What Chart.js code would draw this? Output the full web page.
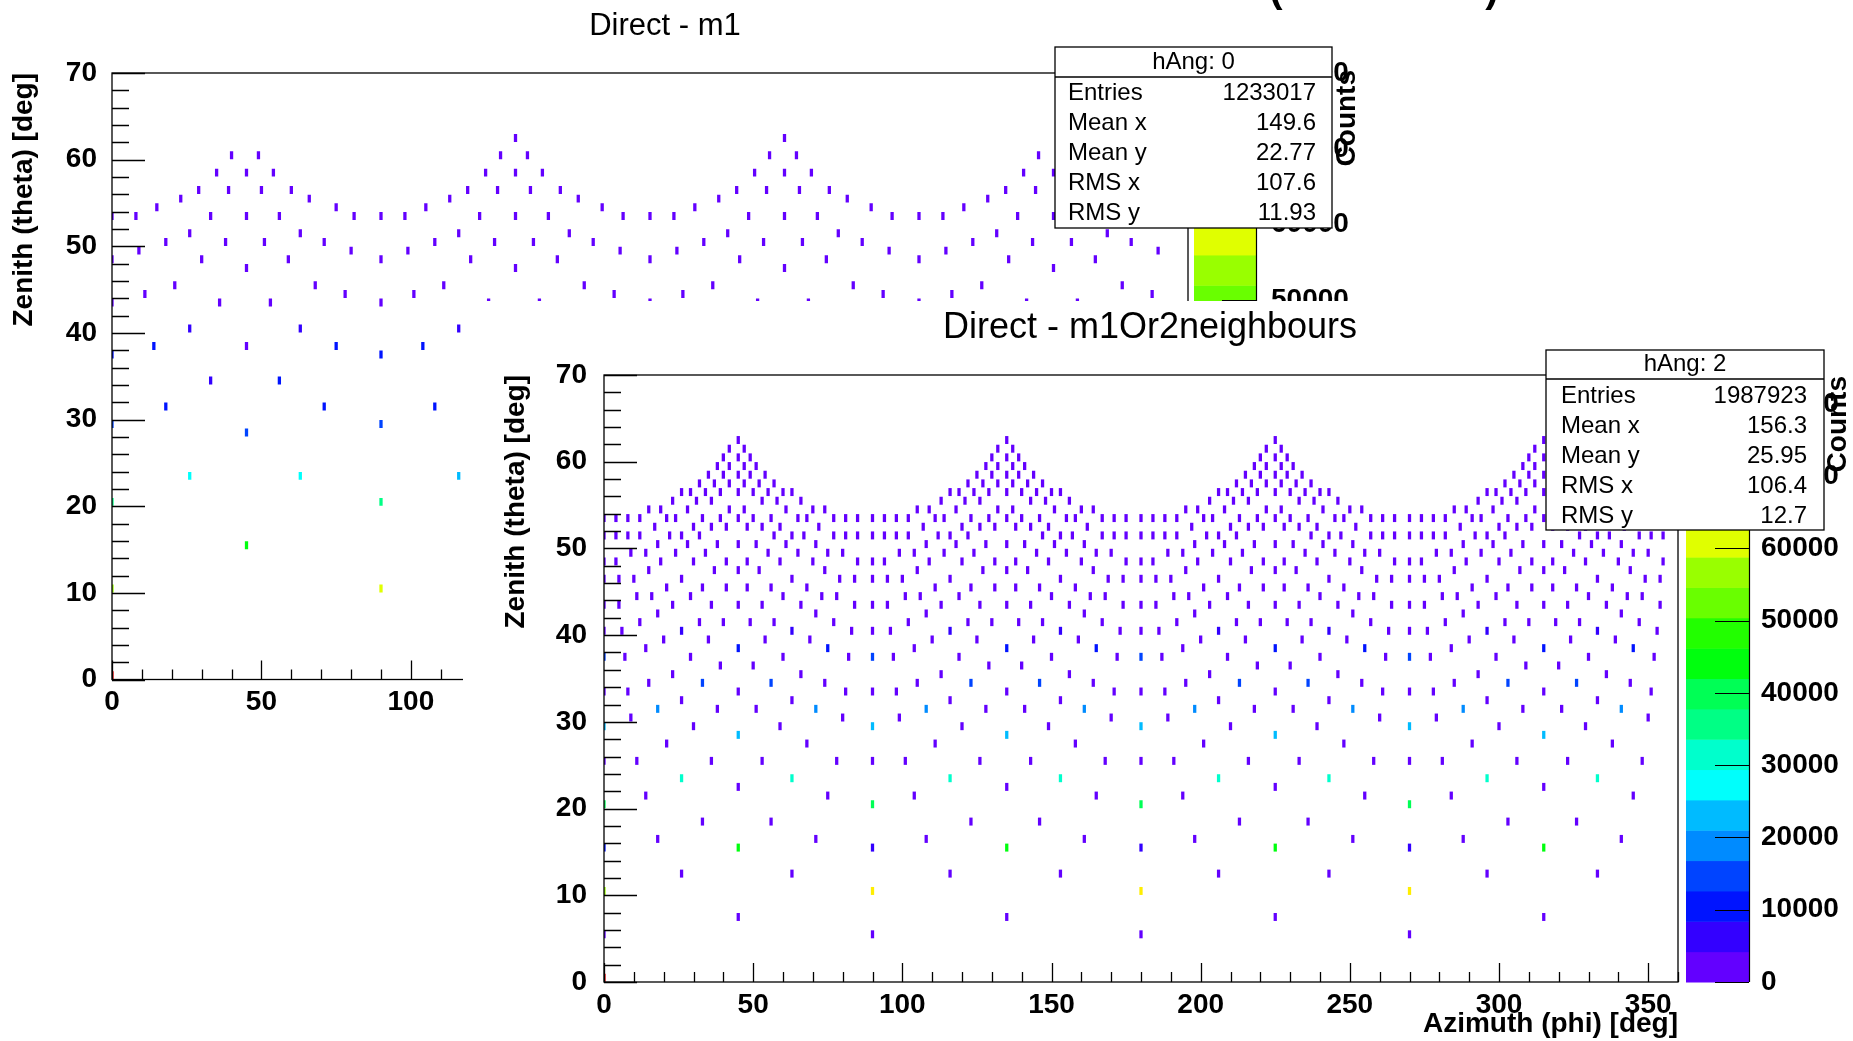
<!DOCTYPE html>
<html>
<head>
<meta charset="utf-8">
<title>hAng</title>
<script src="https://cdn.jsdelivr.net/npm/chart.js@4.4.1/dist/chart.umd.min.js"></script>
<style>
  html, body { margin:0; padding:0; background:#fff; overflow:hidden; width:1853px; height:1041px; }
  #padTop { position:absolute; left:0; top:0; }
  #padBot { position:absolute; left:463px; top:301px; background:#fff; }
</style>
</head>
<body>
<canvas id="padTop" width="1853" height="1041"></canvas>
<canvas id="padBot" width="1390" height="740"></canvas>
<script>
// ================= DATA =================
const phiTicks = [0, 50, 100, 150, 200, 250, 300, 350];
const thetaTicks = [0, 10, 20, 30, 40, 50, 60, 70];
const countTicks = [0, 10000, 20000, 30000, 40000, 50000, 60000, 70000, 80000];

const topTitle = 'Direct - m1';
const botTitle = 'Direct - m1Or2neighbours';
const xTitle = 'Azimuth (phi) [deg]';
const yTitle = 'Zenith (theta) [deg]';
const zTitle = 'Counts';

const statLabels = ['Entries', 'Mean x', 'Mean y', 'RMS x', 'RMS y'];
const statsTopName = 'hAng: 0';
const statsTop = ['1233017', '149.6', '22.77', '107.6', '11.93'];
const statsBotName = 'hAng: 2';
const statsBot = ['1987923', '156.3', '25.95', '106.4', '12.7'];

const zMaxTop = 80000;
const zMaxBot = 84000;
const baseCountTop = 2000;   // ordinary (violet) cells
const baseCountBot = 2000;

// ---- upper pad: Direct - m1 ----
const thetaRowsTop = [62.5, 60.5, 58.5, 56.5, 55.5, 54.5, 53.5, 51.5, 50.5, 49.5, 48.5, 47.5, 45.5, 44.5, 43.5,
  40.5, 38.5, 37.5, 34.5, 31.5, 29.5, 28.5, 23.5, 20.5, 15.5, 10.5, 0.5];
const phiRowsTop = [
  [135, 225],
  [40, 49, 130, 139, 220, 229, 310, 319],
  [35, 45, 54, 125, 135, 144, 215, 225, 234, 305, 315, 324],
  [29, 39, 50, 60, 119, 129, 140, 150, 209, 219, 230, 240, 299, 309, 320, 330],
  [23, 66, 113, 156, 203, 246, 293, 336],
  [15, 75, 105, 164, 195, 254, 285, 344],
  [0, 8, 33, 45, 56, 81, 90, 98, 123, 135, 146, 171, 180, 188, 213, 225, 236, 261, 270, 278, 303, 315, 326, 351],
  [26, 63, 116, 153, 206, 243, 296, 333],
  [18, 38, 51, 71, 108, 128, 141, 161, 198, 218, 231, 251, 288, 308, 321, 341],
  [9, 80, 99, 170, 189, 260, 279, 350],
  [0, 30, 59, 90, 120, 149, 180, 210, 239, 270, 300, 329],
  [45, 135, 225, 315],
  [21, 68, 111, 158, 201, 248, 291, 338],
  [11, 78, 101, 168, 191, 258, 281, 348],
  [0, 36, 53, 90, 126, 143, 180, 216, 233, 270, 306, 323],
  [26, 63, 116],
  [14, 45, 75, 104],
  [0, 90],
  [33, 56],
  [18, 71, 108],
  [0, 90],
  [45],
  [26, 63, 116],
  [0, 90],
  [45],
  [0, 90],
  [0]
];
// [phi, theta, counts] for cells brighter than the base violet
const hotTop = [
  [0, 0.5, 80000],
  [0, 10.5, 53000], [90, 10.5, 58000],
  [45, 15.5, 42000],
  [0, 20.5, 34000], [90, 20.5, 34000],
  [26, 23.5, 26000], [63, 23.5, 26000], [116, 23.5, 22000],
  [45, 28.5, 15000],
  [0, 29.5, 14000], [90, 29.5, 14000],
  [18, 31.5, 10000], [71, 31.5, 10000], [108, 31.5, 10000],
  [33, 34.5, 6000], [56, 34.5, 10000],
  [0, 37.5, 10000], [90, 37.5, 10000],
  [14, 38.5, 10000], [75, 38.5, 10000], [104, 38.5, 10000],
  [26, 40.5, 6000], [63, 40.5, 6000], [116, 40.5, 6000]
];

// ---- lower pad: Direct - m1Or2neighbours ----
const thetaRowsBot = [62.5, 61.5, 60.5, 59.5, 58.5, 57.5, 56.5, 55.5, 54.5, 53.5, 52.5, 51.5, 50.5, 49.5, 48.5,
  47.5, 46.5, 45.5, 44.5, 43.5, 42.5, 41.5, 40.5, 39.5, 38.5, 37.5, 36.5, 35.5, 34.5, 33.5, 32.5, 31.5, 30.5,
  29.5, 28.5, 27.5, 25.5, 23.5, 22.5, 21.5, 20.5, 18.5, 16.5, 15.5, 12.5, 10.5, 7.5, 5.5, 0.5];
const phiRowsBot = [
  [45, 135, 225, 315],
  [42, 47, 132, 137, 222, 227, 312, 317],
  [40, 45, 49, 130, 135, 139, 220, 225, 229, 310, 315, 319],
  [38, 42, 47, 51, 128, 132, 137, 141, 218, 222, 227, 231, 308, 312, 317, 321],
  [35, 40, 45, 49, 54, 125, 130, 135, 139, 144, 215, 220, 225, 229, 234, 305, 310, 315, 319, 324],
  [32, 37, 42, 47, 52, 57, 122, 127, 132, 137, 142, 147, 212, 217, 222, 227, 232, 237, 302, 307, 312, 317, 322, 327],
  [26, 29, 34, 39, 45, 50, 55, 60, 63, 116, 119, 124, 129, 135, 140, 145, 150, 153, 206, 209, 214, 219, 225, 230, 235, 240, 243, 296, 299, 304, 309, 315, 320, 325, 330, 333],
  [23, 31, 36, 53, 58, 66, 113, 121, 126, 143, 148, 156, 203, 211, 216, 233, 238, 246, 293, 301, 306, 323, 328, 336],
  [15, 19, 28, 42, 47, 61, 70, 74, 105, 109, 118, 132, 137, 151, 160, 164, 195, 199, 208, 222, 227, 241, 250, 254, 285, 289, 298, 312, 317, 331, 340, 344],
  [0, 4, 8, 12, 21, 24, 33, 39, 45, 50, 56, 65, 68, 77, 81, 85, 90, 94, 98, 102, 111, 114, 123, 129, 135, 140, 146, 155, 158, 167, 171, 175, 180, 184, 188, 192, 201, 204, 213, 219, 225, 230, 236, 245, 248, 257, 261, 265, 270, 274, 278, 282, 291, 294, 303, 309, 315, 320, 326, 335, 338, 347, 351, 355],
  [17, 30, 36, 41, 48, 53, 59, 72, 107, 120, 126, 131, 138, 143, 149, 162, 197, 210, 216, 221, 228, 233, 239, 252, 287, 300, 306, 311, 318, 323, 329, 342],
  [0, 4, 8, 12, 22, 26, 32, 57, 63, 67, 77, 81, 85, 90, 94, 98, 102, 112, 116, 122, 147, 153, 157, 167, 171, 175, 180, 184, 188, 192, 202, 206, 212, 237, 243, 247, 257, 261, 265, 270, 274, 278, 282, 292, 296, 302, 327, 333, 337, 347, 351, 355],
  [18, 28, 38, 45, 51, 61, 71, 108, 118, 128, 135, 141, 151, 161, 198, 208, 218, 225, 231, 241, 251, 288, 298, 308, 315, 321, 331, 341],
  [9, 14, 24, 34, 55, 65, 75, 80, 99, 104, 114, 124, 145, 155, 165, 170, 189, 194, 204, 214, 235, 245, 255, 260, 279, 284, 294, 304, 325, 335, 345, 350],
  [0, 4, 19, 30, 41, 48, 59, 70, 85, 90, 94, 109, 120, 131, 138, 149, 160, 175, 180, 184, 199, 210, 221, 228, 239, 250, 265, 270, 274, 289, 300, 311, 318, 329, 340, 355],
  [15, 37, 45, 52, 74, 105, 127, 135, 142, 164, 195, 217, 225, 232, 254, 285, 307, 315, 322, 344],
  [0, 5, 10, 26, 63, 79, 84, 90, 95, 100, 116, 153, 169, 174, 180, 185, 190, 206, 243, 259, 264, 270, 275, 280, 296, 333, 349, 354],
  [21, 33, 41, 48, 56, 68, 111, 123, 131, 138, 146, 158, 201, 213, 221, 228, 236, 248, 291, 303, 311, 318, 326, 338],
  [11, 16, 29, 60, 73, 78, 101, 106, 119, 150, 163, 168, 191, 196, 209, 240, 253, 258, 281, 286, 299, 330, 343, 348],
  [0, 5, 23, 36, 45, 53, 66, 84, 90, 95, 113, 126, 135, 143, 156, 174, 180, 185, 203, 216, 225, 233, 246, 264, 270, 275, 293, 306, 315, 323, 336, 354],
  [18, 71, 108, 161, 198, 251, 288, 341],
  [12, 32, 40, 49, 57, 77, 102, 122, 130, 139, 147, 167, 192, 212, 220, 229, 237, 257, 282, 302, 310, 319, 327, 347],
  [0, 6, 26, 63, 83, 90, 96, 116, 153, 173, 180, 186, 206, 243, 263, 270, 276, 296, 333, 353],
  [20, 35, 54, 69, 110, 125, 144, 159, 200, 215, 234, 249, 290, 305, 324, 339],
  [14, 45, 75, 104, 135, 165, 194, 225, 255, 284, 315, 345],
  [0, 7, 29, 60, 82, 90, 97, 119, 150, 172, 180, 187, 209, 240, 262, 270, 277, 299, 330, 352],
  [39, 50, 129, 140, 219, 230, 309, 320],
  [23, 66, 113, 156, 203, 246, 293, 336],
  [15, 33, 56, 74, 105, 123, 146, 164, 195, 213, 236, 254, 285, 303, 326, 344],
  [0, 8, 45, 81, 90, 98, 135, 171, 180, 188, 225, 261, 270, 278, 315, 351],
  [26, 63, 116, 153, 206, 243, 296, 333],
  [18, 38, 51, 71, 108, 128, 141, 161, 198, 218, 231, 251, 288, 308, 321, 341],
  [9, 80, 99, 170, 189, 260, 279, 350],
  [0, 30, 59, 90, 120, 149, 180, 210, 239, 270, 300, 329],
  [45, 135, 225, 315],
  [21, 68, 111, 158, 201, 248, 291, 338],
  [0, 11, 36, 53, 78, 90, 101, 126, 143, 168, 180, 191, 216, 233, 258, 270, 281, 306, 323, 348],
  [26, 63, 116, 153, 206, 243, 296, 333],
  [45, 135, 225, 315],
  [14, 75, 104, 165, 194, 255, 284, 345],
  [0, 90, 180, 270],
  [33, 56, 123, 146, 213, 236, 303, 326],
  [18, 71, 108, 161, 198, 251, 288, 341],
  [0, 45, 90, 135, 180, 225, 270, 315],
  [26, 63, 116, 153, 206, 243, 296, 333],
  [0, 90, 180, 270],
  [45, 135, 225, 315],
  [0, 90, 180, 270],
  [0]
];
const hotBot = [
  [0, 0.5, 84000],
  [0, 10.5, 56000], [90, 10.5, 65000], [180, 10.5, 65000], [270, 10.5, 65000],
  [0, 15.5, 10000], [90, 15.5, 6000], [180, 15.5, 6000], [270, 15.5, 6000],
  [45, 15.5, 44000], [135, 15.5, 44000], [225, 15.5, 44000], [315, 15.5, 44000],
  [0, 20.5, 40000], [90, 20.5, 40000], [180, 20.5, 40000], [270, 20.5, 40000],
  [26, 23.5, 31000], [63, 23.5, 31000], [116, 23.5, 31000], [153, 23.5, 31000], [206, 23.5, 31000], [243, 23.5, 31000], [296, 23.5, 31000], [333, 23.5, 31000],
  [45, 28.5, 23000], [135, 28.5, 23000], [225, 28.5, 23000], [315, 28.5, 23000],
  [0, 29.5, 23000], [90, 29.5, 23000], [180, 29.5, 23000], [270, 29.5, 23000],
  [18, 31.5, 19000], [71, 31.5, 19000], [108, 31.5, 19000], [161, 31.5, 19000], [198, 31.5, 19000], [251, 31.5, 19000], [288, 31.5, 19000], [341, 31.5, 19000],
  [33, 34.5, 14500], [56, 34.5, 14500], [123, 34.5, 14500], [146, 34.5, 14500], [213, 34.5, 14500], [236, 34.5, 14500], [303, 34.5, 14500], [326, 34.5, 14500],
  [0, 37.5, 14500], [90, 37.5, 14500], [180, 37.5, 14500], [270, 37.5, 14500],
  [45, 38.5, 10500], [75, 38.5, 10500], [135, 38.5, 10500], [165, 38.5, 10500], [225, 38.5, 10500], [255, 38.5, 10500], [315, 38.5, 10500], [345, 38.5, 10500],
  [26, 40.5, 6000], [63, 40.5, 6000], [116, 40.5, 6000], [153, 40.5, 6000], [206, 40.5, 6000], [243, 40.5, 6000], [296, 40.5, 6000], [333, 40.5, 6000]
];

// ================= STYLE =================
const FONT = "'Liberation Sans', Arial, Helvetica, sans-serif";
const PALETTE = ['#6300ff','#3300ff','#0014ff','#0044ff','#008bff','#00bbff','#00fffc','#00ffcc','#00ff85','#00ff55',
                 '#00ff0e','#22ff00','#69ff00','#99ff00','#e0ff00','#ffee00','#ffa700','#ff7700','#ff3000','#ff0000'];
const CELL_W = 1.1;    // deg (phi)
const CELL_H = 0.92;   // deg (theta)

function bandColor(v, zMax) {
  let k = Math.floor(v / zMax * PALETTE.length);
  if (k < 0) k = 0;
  if (k > PALETTE.length - 1) k = PALETTE.length - 1;
  return PALETTE[k];
}

function buildCells(thetaRows, phiRows, hot, base) {
  const hotMap = new Map(hot.map(h => [h[0] + '|' + h[1], h[2]]));
  const pts = [];
  thetaRows.forEach((th, i) => {
    phiRows[i].forEach(ph => {
      const key = ph + '|' + th;
      pts.push({ x: ph, y: th, v: hotMap.has(key) ? hotMap.get(key) : base });
    });
  });
  return pts;
}

function zeroPad(sc) {
  sc.paddingLeft = 0; sc.paddingRight = 0; sc.paddingTop = 0; sc.paddingBottom = 0;
}

function rootPlugin(cfg) {
  return {
    id: 'rootDecor_' + cfg.name,
    afterDatasetsDraw(chart) {
      const { ctx, chartArea: a, scales } = chart;
      const xs = scales.x, ys = scales.y, zs = scales.z;
      ctx.save();
      // colour bar (palette axis)
      const n = PALETTE.length;
      for (let k = 0; k < n; k++) {
        const y0 = zs.getPixelForValue(k * cfg.zMax / n);
        const y1 = zs.getPixelForValue((k + 1) * cfg.zMax / n);
        ctx.fillStyle = PALETTE[k];
        ctx.fillRect(cfg.cb.left, y1, cfg.cb.right - cfg.cb.left, y0 - y1 + 0.5);
      }
      ctx.strokeStyle = '#000';
      ctx.lineWidth = 1.2;
      ctx.beginPath();
      ctx.moveTo(cfg.cb.right + 0.5, a.top);
      ctx.lineTo(cfg.cb.right + 0.5, a.bottom);
      cfg.zTicks.forEach(v => {
        const py = Math.round(zs.getPixelForValue(v)) + 0.5;
        ctx.moveTo(cfg.cb.right, py);
        ctx.lineTo(cfg.cb.right - cfg.cb.tick, py);
      });
      ctx.stroke();
      // frame
      ctx.lineWidth = 1.3;
      ctx.strokeRect(a.left, a.top, a.right - a.left, a.bottom - a.top);
      // axis ticks (inside the frame, ROOT style)
      ctx.beginPath();
      for (let v = 0; v <= 360; v += 10) {
        const px = Math.round(xs.getPixelForValue(v)) + 0.5;
        const L = (v % 50 === 0) ? 19 : 10;
        ctx.moveTo(px, a.bottom);
        ctx.lineTo(px, a.bottom - L);
      }
      for (let v = 0; v <= 70; v += 2) {
        const py = Math.round(ys.getPixelForValue(v)) + 0.5;
        const L = (v % 10 === 0) ? 33 : 17;
        ctx.moveTo(a.left, py);
        ctx.lineTo(a.left + L, py);
      }
      ctx.stroke();
      ctx.restore();
    },
    afterDraw(chart) {
      const { ctx } = chart;
      ctx.save();
      // pad title
      ctx.fillStyle = '#000';
      ctx.font = cfg.title.size + 'px ' + FONT;
      ctx.textAlign = 'center';
      ctx.textBaseline = 'alphabetic';
      ctx.fillText(cfg.title.text, cfg.title.x, cfg.title.y);
      // z-axis title
      ctx.save();
      ctx.translate(cfg.counts.x, cfg.counts.y);
      ctx.rotate(-Math.PI / 2);
      ctx.font = 'bold 28px ' + FONT;
      ctx.textAlign = 'right';
      ctx.textBaseline = 'middle';
      ctx.fillText(zTitle, 0, 0);
      ctx.restore();
      // stats box
      const s = cfg.stats;
      ctx.fillStyle = '#fff';
      ctx.fillRect(s.x, s.y, s.w, s.h);
      ctx.strokeStyle = '#000';
      ctx.lineWidth = 1.3;
      ctx.strokeRect(s.x, s.y, s.w, s.h);
      ctx.beginPath();
      ctx.moveTo(s.x, s.y + s.head);
      ctx.lineTo(s.x + s.w, s.y + s.head);
      ctx.stroke();
      ctx.fillStyle = '#000';
      ctx.font = s.size + 'px ' + FONT;
      ctx.textBaseline = 'middle';
      ctx.textAlign = 'center';
      ctx.fillText(s.name, s.x + s.w / 2, s.y + s.headMid);
      statLabels.forEach((lab, i) => {
        const yy = s.y + s.row0 + i * s.rowH;
        ctx.textAlign = 'left';
        ctx.fillText(lab, s.x + s.labelX, yy);
        ctx.textAlign = 'right';
        ctx.fillText(s.values[i], s.x + s.w - s.valueX, yy);
      });
      if (cfg.extra) cfg.extra(ctx);
      ctx.restore();
    }
  };
}

function makeChart(cfg) {
  const a = cfg.area;
  const tickFont = { family: FONT, size: 28, weight: 'bold' };
  const titleFont = { family: FONT, size: 28, weight: 'bold' };
  const plain = v => String(v);
  return new Chart(document.getElementById(cfg.canvas), {
    type: 'scatter',
    data: {
      datasets: [{
        data: cfg.points,
        xAxisID: 'x',
        yAxisID: 'y',
        pointStyle: 'line',
        rotation: 90,
        clip: 0,
        radius: c => {
          const ys = c.chart.scales.y;
          return Math.abs(ys.getPixelForValue(0) - ys.getPixelForValue(CELL_H)) / 2;
        },
        borderWidth: c => {
          const xs = c.chart.scales.x;
          return Math.abs(xs.getPixelForValue(CELL_W) - xs.getPixelForValue(0));
        },
        borderColor: c => (c.raw ? bandColor(c.raw.v, cfg.zMax) : PALETTE[0]),
        backgroundColor: c => (c.raw ? bandColor(c.raw.v, cfg.zMax) : PALETTE[0])
      }]
    },
    options: {
      responsive: false,
      animation: false,
      devicePixelRatio: 1,
      events: [],
      layout: {
        autoPadding: false,
        padding: { left: 0, top: a.top, right: cfg.W - a.right - cfg.zAxisW, bottom: cfg.H - a.bottom - cfg.xAxisH }
      },
      plugins: { legend: { display: false }, tooltip: { enabled: false }, title: { display: false } },
      scales: {
        x: {
          type: 'linear', position: 'bottom', min: 0, max: 360,
          grid: { display: false, drawTicks: false }, border: { display: false },
          ticks: { font: tickFont, color: '#000', padding: cfg.xTickPad, maxRotation: 0, autoSkip: false, callback: plain },
          afterBuildTicks: sc => { sc.ticks = phiTicks.map(v => ({ value: v })); },
          afterFit: sc => { sc.height = cfg.xAxisH; zeroPad(sc); },
          title: { display: true, text: xTitle, align: 'end', font: titleFont, color: '#000', padding: { top: 0, bottom: cfg.xTitlePad } }
        },
        y: {
          type: 'linear', position: 'left', min: 0, max: 70,
          grid: { display: false, drawTicks: false }, border: { display: false },
          ticks: { font: tickFont, color: '#000', padding: cfg.yTickPad, autoSkip: false, callback: plain },
          afterBuildTicks: sc => { sc.ticks = thetaTicks.map(v => ({ value: v })); },
          afterFit: sc => { sc.width = cfg.yAxisW; zeroPad(sc); },
          title: { display: true, text: yTitle, align: 'end', font: titleFont, color: '#000', padding: { top: cfg.yTitlePad, bottom: 0 } }
        },
        z: {
          type: 'linear', position: 'right', axis: 'y', min: 0, max: cfg.zMax, display: true,
          grid: { display: false, drawTicks: false }, border: { display: false },
          ticks: { font: tickFont, color: '#000', padding: cfg.zTickPad, autoSkip: false, callback: plain },
          afterBuildTicks: sc => { sc.ticks = cfg.zTicks.map(v => ({ value: v })); },
          afterFit: sc => { sc.width = cfg.zAxisW; zeroPad(sc); }
        }
      }
    },
    plugins: [rootPlugin(cfg)]
  });
}

// ---- upper pad ----
makeChart({
  name: 'top', canvas: 'padTop', W: 1853, H: 1041,
  area: { left: 112, top: 73, right: 1188, bottom: 679.5 },
  yAxisW: 112, xAxisH: 60, zAxisW: 200,
  xTickPad: 6, yTickPad: 15, zTickPad: 83, yTitlePad: 7, xTitlePad: 0,
  cb: { left: 1194, right: 1256, tick: 34 },
  zMax: zMaxTop, zTicks: countTicks,
  points: buildCells(thetaRowsTop, phiRowsTop, hotTop, baseCountTop),
  title: { text: topTitle, x: 665, y: 35, size: 31 },
  counts: { x: 1347, y: 70 },
  stats: { x: 1055, y: 47, w: 277, h: 181, head: 30, headMid: 15, row0: 46, rowH: 30, labelX: 13, valueX: 16, size: 24,
           name: statsTopName, values: statsTop },
  extra: ctx => {
    ctx.fillStyle = '#000';
    ctx.font = 'bold 40px ' + FONT;
    ctx.textAlign = 'center';
    ctx.textBaseline = 'alphabetic';
    ctx.fillText('(', 1276, 2);
    ctx.fillText(')', 1492, 2);
  }
});

// ---- lower pad ----
makeChart({
  name: 'bot', canvas: 'padBot', W: 1390, H: 740,
  area: { left: 141, top: 74, right: 1215, bottom: 681 },
  yAxisW: 141, xAxisH: 59, zAxisW: 175,
  xTickPad: 6, yTickPad: 17, zTickPad: 83, yTitlePad: 36, xTitlePad: 0,
  cb: { left: 1223, right: 1286, tick: 34 },
  zMax: zMaxBot, zTicks: countTicks,
  points: buildCells(thetaRowsBot, phiRowsBot, hotBot, baseCountBot),
  title: { text: botTitle, x: 687, y: 37, size: 36 },
  counts: { x: 1375, y: 75 },
  stats: { x: 1083, y: 49, w: 278, h: 180, head: 29, headMid: 14.5, row0: 46, rowH: 30, labelX: 15, valueX: 17, size: 24,
           name: statsBotName, values: statsBot }
});
</script>
</body>
</html>
